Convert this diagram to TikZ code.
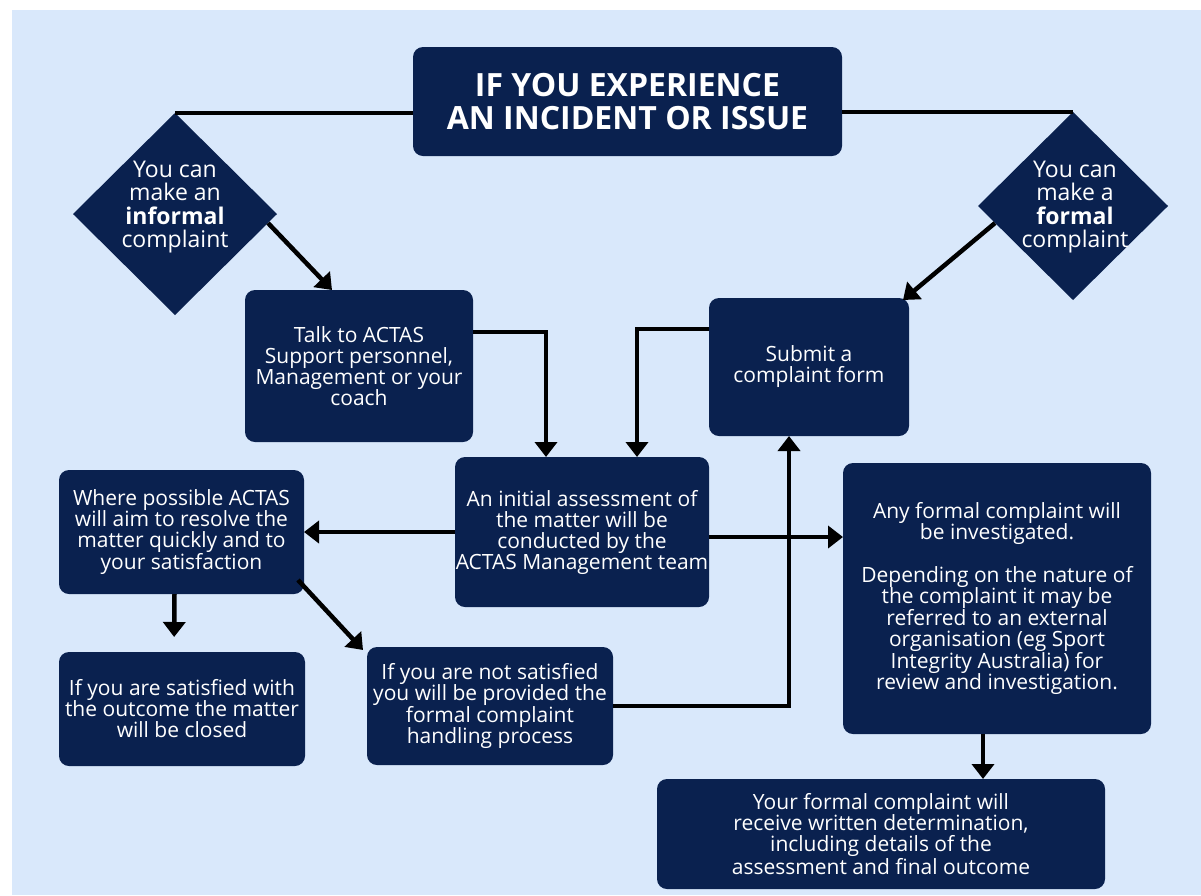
\documentclass[tikz,border=0pt]{standalone}
\usepackage{fontspec}
\setmainfont{Open Sans}
\usetikzlibrary{shapes.geometric,arrows.meta,calc}
\definecolor{bgblue}{RGB}{217,232,251}
\definecolor{navy}{RGB}{10,33,79}
\begin{document}
\begin{tikzpicture}[x=1pt,y=-1pt,
  box/.style={fill=navy, rounded corners=10pt, text=white, align=center,
    font=\fontsize{21}{21}\selectfont, inner sep=0pt, outer sep=0pt},
  dia/.style={diamond, aspect=1, fill=navy, inner sep=0pt, outer sep=0pt},
  dtext/.style={text=white, align=center, font=\fontsize{23}{23.3}\selectfont, inner sep=0pt},
  conn/.style={line width=4.5pt, black},
  arr/.style={conn, -{Triangle[length=15pt,width=22pt]}}
]
\useasboundingbox (0,0) rectangle (1201,895);
\fill[white] (0,0) rectangle (1201,895);
\fill[bgblue] (12,10) rectangle (1201,895);

% title
\node[box, minimum width=429pt, minimum height=109pt,
  font=\bfseries\fontsize{32}{33}\selectfont] (title) at (627.5,101.5)
  {IF YOU EXPERIENCE\\AN INCIDENT OR ISSUE};

% diamonds
\node[dia, minimum width=204pt, minimum height=202pt] (ldia) at (175,214) {};
\node[dtext] (ldiat) at (175,207) {You can\\make an\\\textbf{informal}\\complaint};
\node[dia, minimum width=190pt, minimum height=188pt] (rdia) at (1073,206) {};
\node[dtext] (rdiat) at (1075,207) {You can\\make a\\\textbf{formal}\\complaint};

% boxes
\node[box, minimum width=228pt, minimum height=152pt] (talk) at (359,366)
  {Talk to ACTAS\\Support personnel,\\Management or your\\coach};
\node[box, minimum width=200pt, minimum height=138pt] (submit) at (809,367)
  {Submit a\\complaint form};
\node[box, minimum width=254pt, minimum height=150pt] (assess) at (582,532)
  {An initial assessment of\\the matter will be\\conducted by the\\ACTAS Management team};
\node[box, minimum width=245pt, minimum height=124pt] (where) at (181.5,532)
  {Where possible ACTAS\\will aim to resolve the\\matter quickly and to\\your satisfaction};
\node[box, minimum width=308pt, minimum height=271pt] (anyformal) at (997,598.5)
  {Any formal complaint will\\be investigated.\\[21pt]Depending on the nature of\\the complaint it may be\\referred to an external\\organisation (eg Sport\\Integrity Australia) for\\review and investigation.};
\node[box, minimum width=246pt, minimum height=118pt] (notsat) at (490,706)
  {If you are not satisfied\\you will be provided the\\formal complaint\\handling process};
\node[box, minimum width=246pt, minimum height=114pt] (satisfied) at (182,709)
  {If you are satisfied with\\the outcome the matter\\will be closed};
\node[box, minimum width=448pt, minimum height=110pt] (yourformal) at (881,834)
  {Your formal complaint will\\receive written determination,\\including details of the\\assessment and final outcome};

% connectors
\draw[conn] (title.west |- ldia.north) -- (ldia.north);
\draw[conn] (title.east |- rdia.north) -- (rdia.north);
\draw[arr] ($(ldia.east)+(-9,9)$) -- ($(talk.north west)+(87,0)$);
\draw[arr] ($(rdia.west)+(17,17)$) -- ($(submit.north east)+(-6,2)$);
\draw[arr] ($(talk.north east)+(0,42)$) -| ($(assess.north west)+(91,0)$);
\draw[arr] ($(submit.north west)+(0,31)$) -| ($(assess.north west)+(182,0)$);
\draw[arr] (assess.west) -- (where.east);
\coordinate (ae) at ($(assess.east)+(0,5)$);
\draw[arr] (ae) -- (ae -| anyformal.west);
\draw[arr, shorten >=15pt] ($(where.south)+(-7,0)$) -- ($(satisfied.north)+(-8,0)$);
\draw[arr] ($(where.south east)+(-6,-14)$) -- ($(notsat.north west)+(-4,3)$);
\draw[arr] (notsat.east) -| ($(submit.south)+(-20,0)$);
\draw[arr] ($(anyformal.south)+(-14,0)$) -- ($(yourformal.north)+(102,0)$);
\end{tikzpicture}
\end{document}
